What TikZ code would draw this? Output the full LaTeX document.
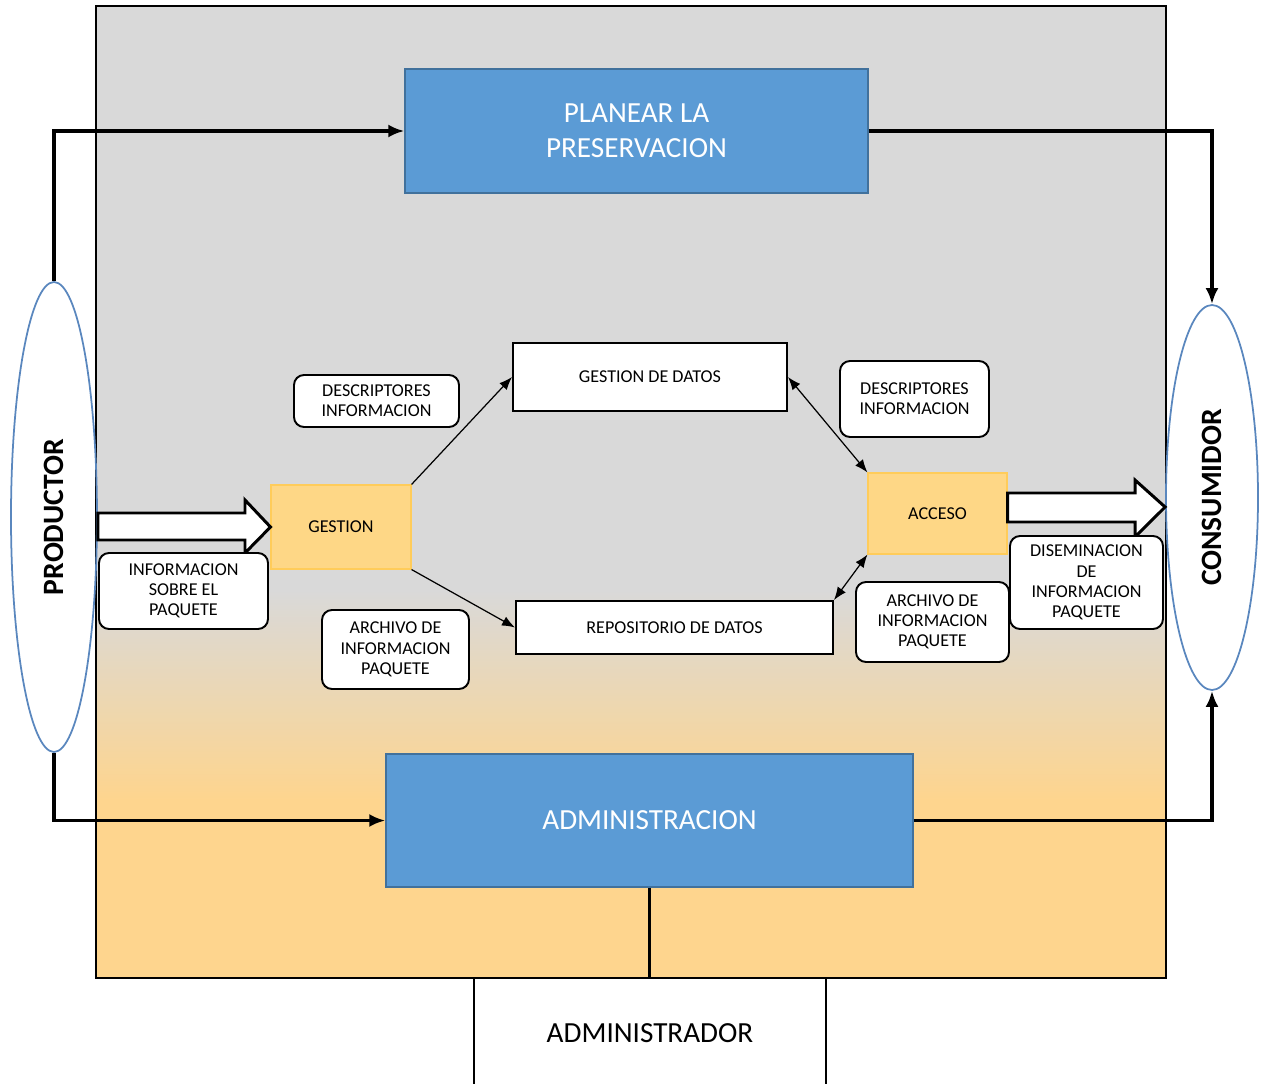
\documentclass[tikz,border=0pt]{standalone}
\usepackage{fontspec}
\setmainfont{Carlito}
\usepackage{xcolor}
\usetikzlibrary{arrows, arrows.meta}
\usetikzlibrary{shapes.geometric, math}
\definecolor{qgray}{RGB}{217,217,217}
\definecolor{qorange}{RGB}{254,213,142}
\definecolor{qblue}{RGB}{91,155,213}
\definecolor{qbluedark}{RGB}{65,113,156}
\definecolor{qgold}{RGB}{255,204,90}
\definecolor{qfill}{RGB}{254,215,134}
\definecolor{qring}{RGB}{90,135,190}

\begin{document}
\begin{tikzpicture}[x=0.2mm,y=-0.2mm,
  bigbox/.style={draw=qbluedark, line width=0.8pt, fill=qblue, text=white, align=center, font=\fontsize{16.6}{20}\selectfont},
  stage/.style={draw=qgold, line width=0.6pt, fill=qfill, font=\fontsize{10.3}{11.5}\selectfont},
  store/.style={draw, line width=1.1pt, fill=white, font=\fontsize{10.3}{11.5}\selectfont},
  tag/.style={draw, line width=1.1pt, fill=white, rounded corners=2mm, align=center, font=\fontsize{10.3}{11.5}\selectfont},
  actor/.style={ellipse, draw=qring, line width=1pt},
  actorname/.style={rotate=90, font=\fontsize{16.8}{20}\selectfont\bfseries},
  flow/.style={line width=2pt, -{Latex[length=3.2mm,width=2.6mm]}},
  link/.style={line width=0.7pt, -{Latex[length=2.6mm,width=2mm]}},
  twoway/.style={line width=0.7pt, {Latex[length=2.6mm,width=2mm]}-{Latex[length=2.6mm,width=2mm]}},
  wide/.style={draw, line width=1.7pt, fill=white}]

\tikzmath{
\fl = 96; % frame left
\fr = 1166; % frame right
\ft = 6; % frame top
\fb = 978; % frame bottom
\ga = 590; % start of gradient
\gb = 800; % end of gradient
}

\useasboundingbox (0,0) rectangle (1267,1084);

%background:
\fill[qgray] (\fl,\ft) rectangle (\fr,\ga);
\shade[top color=qgray, bottom color=qorange] (\fl,\ga) rectangle (\fr,\gb);
\fill[qorange] (\fl,\gb) rectangle (\fr,\fb);
\draw[line width=1.4pt] (\fl,\ft) rectangle (\fr,\fb);

%administrador:
\draw[line width=1.4pt] (474,1084) -- (474,\fb) (826,\fb) -- (826,1084);
\node[font=\fontsize{16.6}{20}\selectfont] (adm) at (650,1033) {ADMINISTRADOR};

%actors:
\node[actor, minimum width=17.2mm, minimum height=94mm] (prod) at (54,517) {};
\node[actorname] at (prod) {PRODUCTOR};
\node[actor, minimum width=18.4mm, minimum height=77mm] (cons) at (1212,497.5) {};
\node[actorname] at (cons) {CONSUMIDOR};

%blue boxes:
\node[bigbox, minimum width=92.6mm, minimum height=24.8mm] (plan) at (636.5,131) {PLANEAR LA\\PRESERVACION};
\node[bigbox, minimum width=105.4mm, minimum height=26.6mm] (admin) at (649.5,820.5) {ADMINISTRACION};
\draw[line width=1.4pt] (admin.south) -- (admin.south |- 0,\fb);

%stages:
\node[stage, minimum width=28mm, minimum height=16.8mm] (gest) at (341,527) {GESTION};
\node[stage, minimum width=27.8mm, minimum height=16.2mm] (acc) at (937.5,513.5) {ACCESO};
\node[store, minimum width=54.8mm, minimum height=13.6mm] (gdat) at (650,377) {GESTION DE DATOS};
\node[store, minimum width=63.4mm, minimum height=10.6mm] (repo) at (674.5,627.5) {REPOSITORIO DE DATOS};

%labels:
\node[tag, minimum width=33mm, minimum height=10.4mm] (descl) at (376.5,401) {DESCRIPTORES\\INFORMACION};
\node[tag, minimum width=29.8mm, minimum height=15.2mm] (descr) at (914.5,399) {DESCRIPTORES\\INFORMACION};
\node[tag, minimum width=29.4mm, minimum height=15.8mm] (archl) at (395.5,649.5) {ARCHIVO DE\\INFORMACION\\PAQUETE};

%block arrows:
\draw[wide] (prod.east |- 0,513) -- (245,513) -- (245,500) -- (gest.west) -- (245,553) -- (245,540) -- (prod.east |- 0,540) -- cycle;
\draw[wide] (acc.east |- 0,493) -- (1135,493) -- (1135,480) -- (cons.west |- 0,507) -- (1135,537) -- (1135,522) -- (acc.east |- 0,522) -- cycle;

\node[tag, minimum width=33.8mm, minimum height=15.2mm] (info) at (183.5,591) {INFORMACION\\SOBRE EL\\PAQUETE};
\node[tag, minimum width=30.6mm, minimum height=16mm] (archr) at (932.5,622) {ARCHIVO DE\\INFORMACION\\PAQUETE};
\node[tag, minimum width=30.6mm, minimum height=18.6mm] (dise) at (1086.5,582.5) {DISEMINACION\\DE\\INFORMACION\\PAQUETE};

%flows:
\draw[flow] (prod.north) |- (plan.west);
\draw[flow] (plan.east) -| (cons.north);
\draw[flow] (prod.south) |- (admin.west);
\draw[flow] (admin.east) -| (cons.south);

%links:
\draw[link] (gest.north east) -- (gdat.west);
\draw[link] (gest.south east) -- (repo.west);
\draw[twoway] (gdat.east) -- (acc.north west);
\draw[twoway] (repo.north east) -- (acc.south west);

\end{tikzpicture}
\end{document}
